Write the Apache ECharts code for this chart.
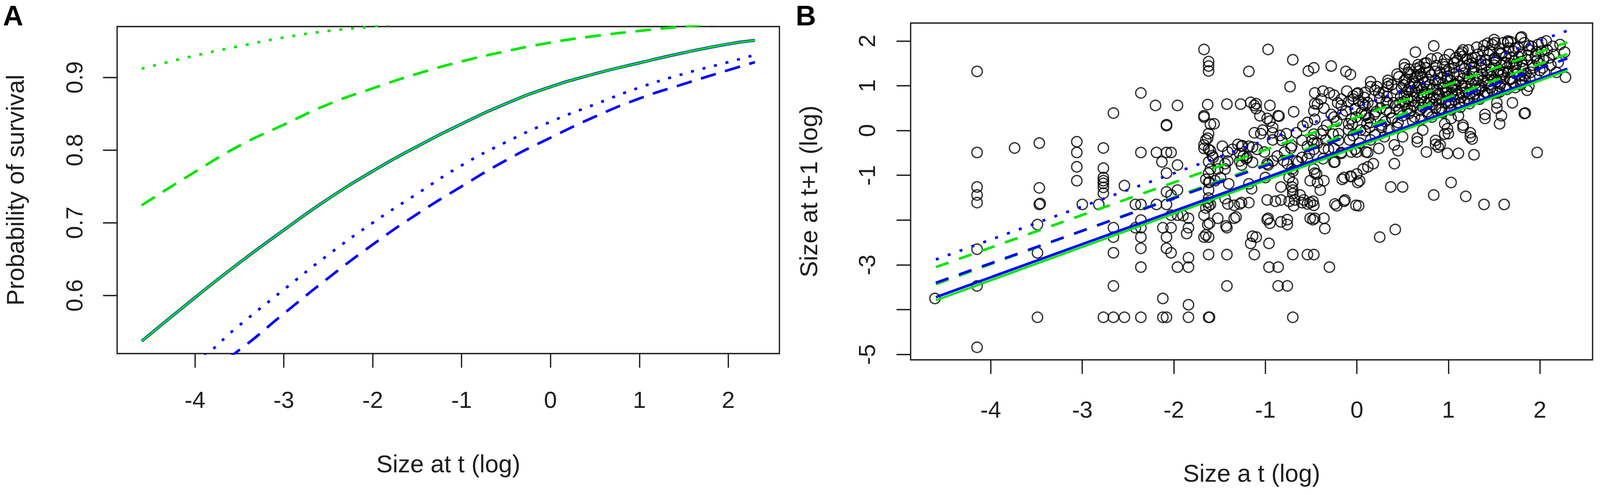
<!DOCTYPE html>
<html>
<head>
<meta charset="utf-8">
<title>Survival and growth</title>
<script src="https://cdn.jsdelivr.net/npm/echarts@6.0.0/dist/echarts.min.js"></script>
<style>
  html, body { margin: 0; padding: 0; background: #fff; overflow: hidden; }
  #main { width: 100vw; height: 100vh; }
</style>
</head>
<body>
<div id="main"></div>
<script>
// ---- panel A : probability of survival vs size ----
var sizeA = [-4.6, -4.0, -3.5, -3.0, -2.5, -2.0, -1.5, -1.0, -0.5, 0, 0.5, 1.0, 1.5, 2.0, 2.3];
var survBlueSolid   = [0.537, 0.597, 0.645, 0.690, 0.733, 0.771, 0.805, 0.836, 0.864, 0.887, 0.905, 0.920, 0.934, 0.946, 0.951];
var survGreenSolid  = [0.537, 0.597, 0.645, 0.690, 0.733, 0.771, 0.805, 0.836, 0.864, 0.887, 0.905, 0.920, 0.934, 0.946, 0.951];
var survGreenDashed = [0.724, 0.770, 0.806, 0.835, 0.863, 0.885, 0.905, 0.922, 0.936, 0.948, 0.957, 0.964, 0.970, 0.975, 0.978];
var survGreenDotted = [0.912, 0.930, 0.943, 0.955, 0.964, 0.970, 0.976, 0.980, 0.983, 0.986, 0.988, 0.990, 0.991, 0.992, 0.993];
var survBlueDotted  = [0.470, 0.508, 0.559, 0.608, 0.656, 0.700, 0.740, 0.779, 0.811, 0.839, 0.863, 0.886, 0.905, 0.921, 0.931];
var survBlueDashed  = [0.440, 0.483, 0.525, 0.575, 0.624, 0.670, 0.712, 0.750, 0.786, 0.817, 0.846, 0.871, 0.891, 0.910, 0.921];

var ticksX = [-4, -3, -2, -1, 0, 1, 2];
var ticksA = [0.6, 0.7, 0.8, 0.9];

// ---- panel B : size at t+1 vs size at t ----
var sizeB = [-4.6, 2.3];
var growBlueSolid   = [-3.72, 1.38];
var growGreenSolid  = [-3.79, 1.34];
var growBlueDashed  = [-3.40, 1.61];
var growGreenDashed = [-3.43, 1.71];
var growGreenUpper  = [-3.05, 1.97];
var growBlueDotted  = [-2.88, 2.23];

var ticksB = [-5, -4, -3, -2, -1, 0, 1, 2];
var labelsB = [-5, -3, -1, 0, 1, 2];

// observed individuals (size t, size t+1)
var obsSize = [
  [-4.61,-3.75],
  [-4.15,1.32],[-4.15,-0.49],[-4.15,-1.26],[-4.15,-1.44],[-4.15,-1.61],[-4.15,-2.65],[-4.15,-3.47],[-4.15,-4.84],
  [-3.74,-0.39],
  [-3.47,-0.28],[-3.47,-1.28],[-3.47,-1.65],[-3.46,-1.63],[-3.49,-2.10],[-3.49,-2.73],[-3.49,-4.17],
  [-3.06,-0.25],[-3.06,-0.49],[-3.06,-0.81],[-3.06,-1.12],[-3.00,-1.65],
  [-2.77,-0.39],[-2.77,-0.84],[-2.77,-1.05],[-2.77,-1.12],[-2.77,-1.18],[-2.77,-1.27],[-2.77,-1.40],[-2.82,-1.65],[-2.77,-4.17],
  [-2.66,0.39],[-2.66,-2.17],[-2.66,-2.38],[-2.66,-2.73],[-2.66,-3.47],[-2.66,-4.17],
  [-2.54,-1.23],[-2.54,-4.17],
  [-2.36,0.84],[-2.36,-0.49],[-2.42,-1.65],[-2.36,-1.65],[-2.36,-2.00],[-2.42,-2.17],[-2.36,-2.17],[-2.36,-2.38],[-2.36,-2.63],[-2.36,-3.05],[-2.36,-4.17],
  [-2.20,0.56],[-2.19,-0.49],[-2.19,-1.65],[-2.13,-0.70],
  [-2.08,0.11],[-2.08,0.13],[-2.08,-0.49],[-2.08,-0.95],[-2.08,-1.37],[-2.08,-1.65],[-2.12,-2.17],[-2.08,-2.38],[-2.08,-2.63],[-2.12,-3.75],[-2.12,-4.17],[-2.08,-4.17],
  [-2.03,-0.49],[-2.03,-1.44],[-2.03,-1.89],[-2.03,-2.17],[-2.03,-2.73],
  [-1.96,0.56],[-1.96,-0.77],[-1.96,-1.33],[-1.96,-1.89],[-1.96,-3.05],
  [-1.84,-1.96],[-1.84,-2.17],[-1.84,-2.84],[-1.84,-3.05],[-1.84,-3.89],[-1.84,-4.17],
  [-1.67,1.81],[-1.62,1.54],[-1.62,1.44],[-1.62,1.33],[-1.63,0.58],[-1.67,0.30],[-1.60,0.14],[-1.62,-0.07],[-1.67,-0.32],[-1.62,-0.42],
  [-1.58,-0.56],[-1.62,-0.70],[-1.62,-0.95],[-1.62,-1.16],[-1.62,-1.33],[-1.62,-1.51],[-1.62,-1.68],[-1.67,-1.89],[-1.61,-2.07],
  [-1.67,-2.38],[-1.62,-2.38],[-1.62,-2.77],[-1.62,-4.17],[-1.61,-4.17],
  [-1.63,-0.17],[-1.65,-0.21],[-1.67,-0.40],[-1.60,-0.45],[-1.57,-0.60],[-1.60,-0.86],[-1.61,-1.15],[-1.65,-1.09],[-1.63,-1.60],
  [-1.60,-1.65],[-1.65,-1.73],[-1.63,-2.10],[-1.65,-2.33],[-1.90,-1.90],[-1.86,-2.30],[-1.56,0.15],[-1.67,0.33],
  [-1.52,-0.86],[-1.55,-1.12],[-1.52,-1.96],[-1.51,-0.70],[-1.49,-1.05],[-1.47,-0.35],[-1.44,-0.74],[-1.44,-0.86],[-1.44,-1.52],
  [-1.43,-2.13],[-1.42,0.59],[-1.42,-2.17],[-1.42,-2.77],[-1.42,-3.47],[-1.41,-0.48],[-1.41,-0.68],[-1.41,-1.64],[-1.40,-1.19],
  [-1.36,-0.42],[-1.34,-1.96],[-1.34,-1.67],[-1.32,-1.93],[-1.30,-0.31],[-1.28,-0.51],[-1.28,-0.68],[-1.28,-1.64],[-1.27,0.59],
  [-1.26,-0.35],[-1.26,-0.77],[-1.26,-1.61],[-1.25,-0.34],[-1.24,-0.57],[-1.21,-0.63],[-1.20,-0.60],[-1.18,1.32],[-1.18,-0.35],
  [-1.18,-1.19],[-1.18,-1.61],[-1.16,0.63],[-1.16,-2.52],[-1.15,-1.30],[-1.14,-0.37],[-1.14,-0.71],[-1.14,-2.36],[-1.12,0.56],
  [-1.12,-0.05],[-1.12,-2.77],[-1.10,0.60],[-1.10,0.49],[-1.10,-2.38],[-1.09,-0.42],[-1.06,0.33],[-1.03,0.01],[-1.05,-0.07],
  [-1.01,-0.48],[-1.00,-1.05],[-0.98,0.27],[-0.98,-0.74],[-0.98,-1.55],[-0.98,-1.99],[-0.97,1.81],[-0.97,-0.77],[-0.97,-1.96],
  [-0.96,-2.52],[-0.96,-3.05],[-0.95,0.56],[-0.95,0.21],[-0.95,-2.07],[-0.92,-0.05],[-0.92,-0.21],[-0.92,-0.68],[-0.92,0.07],
  [-0.89,-1.58],[-0.87,-0.57],[-0.86,0.33],[-0.86,-3.05],[-0.86,-3.47],[-0.85,0.32],[-0.84,-0.11],[-0.83,-1.55],[-0.83,-1.26],
  [-0.83,-2.04],[-0.82,-0.22],[-0.80,-0.67],[-0.79,-0.48],[-0.77,-0.07],[-0.76,-0.74],[-0.76,-1.99],[-0.76,-2.10],[-0.76,-3.47],
  [-0.74,-1.05],[-0.74,-1.58],[-0.73,0.98],[-0.72,-0.39],[-0.71,-0.34],[-0.71,-0.86],[-0.71,-1.26],[-0.70,1.58],[-0.70,-0.91],
  [-0.70,-1.16],[-0.70,-1.33],[-0.70,-1.41],[-0.69,-1.68],[-0.70,-2.77],[-0.70,-4.17],[-0.69,0.42],[-0.68,-1.55],[-0.66,-0.05],
  [-0.66,-0.68],[-0.64,-0.70],[-0.62,-1.44],
  [-0.60,-0.22],[-0.60,-0.60],[-0.60,-1.61],[-0.59,0.10],[-0.58,-1.55],[-0.54,0.18],[-0.54,-0.35],[-0.54,-0.63],[-0.54,-1.64],
  [-0.54,-2.77],[-0.53,1.33],[-0.52,-0.51],[-0.51,-1.12],[-0.51,-1.61],[-0.51,-1.96],[-0.49,-0.22],[-0.48,-1.58],[-0.48,-1.99],
  [-0.47,1.40],[-0.47,0.44],[-0.47,-0.08],[-0.47,-0.28],[-0.47,-0.42],[-0.47,-0.86],[-0.47,-1.67],[-0.47,-2.77],[-0.46,0.84],
  [-0.46,0.60],[-0.46,0.25],[-0.46,-0.95],[-0.46,-1.96],[-0.44,-0.97],[-0.43,0.59],[-0.43,-0.28],[-0.43,-1.16],[-0.40,-1.33],
  [-0.39,0.70],[-0.39,-0.08],[-0.37,0.88],[-0.37,0.00],[-0.37,-0.63],[-0.36,0.50],[-0.36,-0.40],[-0.36,-1.12],[-0.36,-1.96],
  [-0.35,-2.19],[-0.34,-0.21],[-0.33,0.12],[-0.31,-0.42],[-0.30,0.84],[-0.30,-3.05],[-0.28,1.44],[-0.26,-0.08],[-0.25,0.79],
  [-0.25,0.30],[-0.25,-0.40],[-0.25,-0.71],[-0.24,-0.70],[-0.24,-1.64],[-0.22,0.21],[-0.22,-1.68],
  [-0.20,-0.22],[-0.20,-0.07],[-0.17,0.70],[-0.17,0.56],[-0.17,-0.49],[-0.17,-0.51],[-0.16,0.36],[-0.16,-1.09],[-0.14,-1.05],
  [-0.14,-1.58],[-0.13,-1.55],[-0.12,1.32],[-0.11,0.88],[-0.09,0.64],[-0.09,0.15],[-0.09,0.01],[-0.08,-0.21],[-0.07,1.25],
  [-0.07,-1.02],[-0.06,-0.48],[-0.06,-1.03],[-0.05,0.14],[-0.04,0.77],[-0.04,0.70],[-0.04,-0.11],[-0.02,0.49],[-0.02,-0.42],
  [-0.01,0.30],[-0.01,-1.67],[0.00,0.82],[0.00,-0.48],[0.00,-0.97],[0.01,0.84],[0.01,-1.16],[0.02,-1.68],[0.03,-0.28],
  [0.03,-1.12],[0.04,0.01],[0.07,0.59],[0.07,-0.86],[0.09,0.56],[0.09,0.00],[0.10,0.36],[0.10,-0.48],[0.11,0.15],[0.12,-0.49],[0.12,-0.81],
  [0.09,0.85],[0.12,0.62],[0.09,0.33],[0.14,0.07],[0.15,1.09],[0.15,0.98],[0.15,0.18],[0.15,-0.21],[0.18,-0.74],[0.19,0.36],
  [0.20,0.90],[0.20,-0.10],[0.21,0.42],[0.24,0.84],[0.24,-0.40],[0.25,0.73],[0.25,-2.38],[0.27,0.12],[0.27,0.07],[0.30,-0.14],
  [0.32,0.63],[0.32,0.46],[0.34,1.12],[0.34,1.05],[0.34,0.98],[0.34,0.62],[0.35,0.02],[0.37,-1.26],[0.38,0.28],[0.39,0.27],
  [0.41,-0.74],[0.41,-0.32],[0.42,-2.21],[0.44,1.26],[0.44,0.07],[0.45,-0.45],[0.46,0.47],[0.50,-0.14],[0.50,-1.26],[0.51,0.64],
  [0.52,1.40],[0.52,1.48],[0.52,0.77],[0.54,0.85],[0.54,1.14],[0.55,0.49],[0.57,1.37],[0.58,0.98],[0.61,0.21],
  [0.62,0.73],[0.64,1.75],[0.64,1.19],[0.66,1.22],[0.66,0.96],[0.66,-0.17],[0.66,-0.25],[0.67,1.47],[0.69,1.42],[0.71,0.73],
  [0.72,0.01],[0.74,1.08],[0.76,1.51],[0.76,-0.48],[0.79,1.31],[0.79,0.62],[0.84,1.89],[0.84,-1.44],[0.86,-0.22],[0.86,-0.31],
  [0.89,0.82],[0.89,-0.37],[0.91,-0.32],[0.92,0.50],[0.96,1.42],[0.96,-0.08],[0.96,0.15],[0.97,0.85],[0.99,1.14],[0.99,0.04],
  [0.99,-0.51],[1.00,-0.07],[1.03,0.62],[1.03,0.27],[1.03,-1.16],[1.04,0.96],[1.06,1.51],[1.06,1.02],[1.11,0.33],[1.11,-0.51],
  [1.13,1.71],[1.13,0.73],[1.15,1.75],[1.16,1.80],[1.16,1.16],[1.16,0.12],[1.16,0.07],[1.19,-1.47],[1.23,1.48],[1.23,0.82],
  [1.24,-0.05],[1.24,-0.14],[1.26,1.31],[1.26,-0.19],[1.28,-0.54],[1.29,1.63],[1.33,0.90],[1.36,1.48],[1.38,1.77],[1.39,-1.65],
  [1.40,0.36],[1.40,0.27],[1.43,1.95],[1.43,0.82],[1.46,1.25],[1.50,2.03],[1.50,1.60],[1.51,1.96],[1.53,0.50],[1.53,0.62],
  [1.56,1.83],[1.56,0.99],[1.56,0.15],[1.58,0.33],[1.60,1.31],[1.61,-1.65],[1.63,1.51],[1.65,1.97],[1.65,2.00],[1.68,1.14],
  [1.70,0.62],[1.71,1.77],[1.73,1.40],[1.79,2.07],[1.80,2.09],[1.80,1.54],[1.80,1.11],[1.83,1.22],[1.83,0.38],[1.84,0.39],
  [1.86,0.90],[1.88,1.89],[1.88,0.99],[1.97,1.57],[1.97,-0.49],[2.02,1.77],[2.03,1.40],[2.07,2.00],[2.27,1.75],[2.28,1.19],
  // dense band above the fitted line
  [0.47,0.62],[0.49,0.95],[0.52,1.12],[0.55,0.70],[0.57,0.38],[0.58,1.25],[0.60,0.88],[0.62,0.55],[0.63,1.05],[0.66,0.78],
  [0.68,1.33],[0.69,0.45],[0.71,0.92],[0.72,1.18],[0.74,0.64],[0.75,1.40],[0.77,0.83],[0.78,0.36],[0.80,1.02],[0.81,1.24],
  [0.83,0.58],[0.84,0.74],[0.86,1.12],[0.87,1.45],[0.88,0.92],[0.90,0.48],[0.91,1.30],[0.93,0.70],[0.94,1.05],[0.96,1.58],
  [0.97,0.87],[0.99,1.21],[1.00,0.60],[1.01,1.38],[1.03,0.98],[1.05,0.76],[1.06,1.26],[1.08,1.62],[1.09,0.90],[1.11,1.10],
  [1.12,0.62],[1.14,1.44],[1.15,0.84],[1.17,1.28],[1.18,1.00],[1.20,1.60],[1.21,0.72],[1.23,1.15],[1.24,0.93],[1.26,1.50],
  [1.27,1.32],[1.29,0.82],[1.30,1.06],[1.32,1.70],[1.33,1.22],[1.35,0.95],[1.36,1.40],[1.38,1.12],[1.39,0.78],[1.41,1.58],
  [1.42,1.30],[1.44,1.02],[1.45,1.78],[1.47,1.20],[1.48,0.90],[1.50,1.46],[1.51,1.62],[1.53,1.10],[1.55,1.35],[1.56,0.86],
  [1.58,1.72],[1.59,1.24],[1.61,1.52],[1.62,0.98],[1.64,1.40],[1.66,1.84],[1.67,1.16],[1.69,1.63],[1.71,1.30],[1.73,0.96],
  [1.74,1.48],[1.76,1.86],[1.78,1.22],[1.80,1.70],[1.82,1.38],[1.84,1.12],[1.86,1.58],[1.88,1.80],[1.90,1.30],[1.92,1.46],
  [1.95,1.66],[1.98,1.92],[2.00,1.34],[2.04,1.58],[2.08,1.80],[2.12,1.46],[2.15,1.70],[2.18,1.30],[2.22,1.92],
  [0.42,0.55],[0.43,0.92],[0.45,0.18],[0.46,1.20],[0.48,0.76],[0.50,0.33],[0.51,1.02],[0.53,0.58],[0.56,0.90],[0.56,1.30],
  [0.59,0.45],[0.60,0.66],[0.61,1.10],[0.63,0.30],[0.64,0.86],[0.65,1.38],[0.67,0.62],[0.68,1.02],[0.70,0.25],[0.70,1.26],
  [0.72,0.52],[0.73,0.80],[0.74,1.50],[0.76,0.98],[0.77,0.42],[0.78,1.14],[0.80,0.70],[0.81,1.60],[0.82,0.30],[0.83,0.92],
  [0.85,1.32],[0.86,0.50],[0.87,0.68],[0.88,1.62],[0.89,1.05],[0.90,0.80],[0.92,1.18],[0.93,0.40],[0.94,1.48],[0.95,0.95],
  [0.97,0.62],[0.98,1.32],[0.99,0.76],[1.01,1.70],[1.02,1.12],[1.03,0.46],[1.04,0.84],[1.06,1.40],[1.07,0.68],[1.08,1.02],
  [1.10,1.56],[1.11,0.80],[1.12,1.24],[1.13,0.52],[1.15,1.00],[1.16,1.66],[1.17,0.66],[1.18,1.38],[1.19,0.86],[1.21,1.20],
  [1.22,1.80],[1.23,0.60],[1.25,1.04],[1.26,1.62],[1.27,0.76],[1.28,1.42],[1.30,0.92],[1.31,1.86],[1.32,1.14],[1.34,0.70],
  [1.35,1.56],[1.36,1.00],[1.37,1.26],[1.39,1.90],[1.40,0.86],[1.41,1.46],[1.43,1.12],[1.44,1.70],[1.46,0.96],[1.47,1.36],
  [1.48,1.92],[1.50,1.12],[1.52,1.56],[1.53,0.84],[1.54,1.28],[1.56,1.72],[1.57,1.04],[1.58,1.46],[1.60,1.96],[1.61,1.16],
  [1.63,1.66],[1.64,0.92],[1.65,1.30],[1.67,1.50],[1.68,1.98],[1.70,1.08],[1.72,1.56],[1.73,1.84],[1.75,1.26],[1.77,1.64],
  [1.79,1.02],[1.81,1.46],[1.83,1.96],[1.85,1.28],[1.87,1.68],[1.89,1.16],[1.91,1.88],[1.93,1.40],[1.96,1.76],[1.99,1.50],
  [2.02,1.96],[2.05,1.30],[2.10,1.62],[2.14,1.88],[2.20,1.52],
  [-0.28,0.36],[-0.21,0.62],[-0.12,0.44],[-0.06,0.26],[0.02,0.66],[0.05,0.40],[0.08,0.74],[0.13,0.28],[0.17,0.55],
  [0.22,0.98],[0.26,0.50],[0.29,0.86],[0.31,0.20],[0.33,0.76],[0.36,0.40],[0.38,1.02],[0.40,0.62]
];

var BLUE = '#0000ff';
var GREEN = '#00e600';
var INK = '#1e1e1e';
var FONT = 'Liberation Sans';

// the layout below is measured on a 4317 x 1267 frame; scale it to the real viewport
var dom = document.getElementById('main');
var sx = (dom.clientWidth || 4317) / 4317;
var sy = (dom.clientHeight || 1267) / 1267;
var s = Math.min(sx, sy);

function pairs(xs, ys) {
  return xs.map(function (x, i) { return [x, ys[i]]; });
}

function line(name, panel, xs, ys, color, type, width) {
  return {
    name: name,
    type: 'line',
    xAxisIndex: panel,
    yAxisIndex: panel,
    data: pairs(xs, ys),
    smooth: panel === 0,
    showSymbol: false,
    clip: true,
    z: 5,
    lineStyle: {
      color: color, width: width * s,
      type: Array.isArray(type) ? type.map(function (d) { return d * s; }) : type
    }
  };
}

var tickStyle = { show: true, inside: false, length: 38 * s, lineStyle: { color: INK, width: 3.5 * s } };

function xAxisFor(grid, margin, name, gap) {
  return {
    type: 'value', gridIndex: grid, min: -4.876, max: 2.576,
    axisLine: { show: false, onZero: false }, splitLine: { show: false },
    axisTick: Object.assign({ customValues: ticksX }, tickStyle),
    axisLabel: { customValues: ticksX, margin: margin * sy, color: INK, fontSize: 63 * s, fontFamily: FONT },
    name: name, nameLocation: 'middle', nameGap: gap * sy,
    nameTextStyle: { color: INK, fontSize: 66 * s, fontFamily: FONT }
  };
}

var myChart = echarts.init(dom, null, { renderer: 'svg' });

var option = {
  animation: false,
  backgroundColor: '#fff',
  textStyle: { fontFamily: FONT },
  graphic: [
    { type: 'text', left: 8 * sx, top: 4 * sy, style: { text: 'A', font: 'bold ' + Math.round(76 * s) + 'px "Liberation Sans"', fill: '#000' } },
    { type: 'text', left: 2147 * sx, top: 4 * sy, style: { text: 'B', font: 'bold ' + Math.round(76 * s) + 'px "Liberation Sans"', fill: '#000' } }
  ],
  grid: [
    { left: 316 * sx, top: 68 * sy, width: 1787 * sx, height: 837 * sy, show: true, borderColor: INK, borderWidth: 3.5 * s, containLabel: false },
    { left: 2457 * sx, top: 59 * sy, width: 1840 * sx, height: 862 * sy, show: true, borderColor: INK, borderWidth: 3.5 * s, containLabel: false }
  ],
  xAxis: [
    xAxisFor(0, 88, 'Size at t (log)', 250),
    xAxisFor(1, 97, 'Size a t (log)', 258)
  ],
  yAxis: [
    {
      type: 'value', gridIndex: 0, min: 0.52, max: 0.97,
      axisLine: { show: false, onZero: false }, splitLine: { show: false },
      axisTick: Object.assign({ customValues: ticksA }, tickStyle),
      axisLabel: {
        customValues: ticksA, rotate: 90, margin: 84 * sx, color: INK, fontSize: 63 * s, fontFamily: FONT,
        formatter: function (v) { return v.toFixed(1); }
      },
      name: 'Probability of survival', nameLocation: 'middle', nameGap: 242 * sx,
      nameTextStyle: { color: INK, fontSize: 66 * s, fontFamily: FONT }
    },
    {
      type: 'value', gridIndex: 1, min: -5.12, max: 2.40,
      axisLine: { show: false, onZero: false }, splitLine: { show: false },
      axisTick: Object.assign({ customValues: ticksB }, tickStyle),
      axisLabel: { customValues: labelsB, rotate: 90, margin: 86 * sx, color: INK, fontSize: 63 * s, fontFamily: FONT },
      name: 'Size at t+1 (log)', nameLocation: 'middle', nameGap: 242 * sx,
      nameTextStyle: { color: INK, fontSize: 66 * s, fontFamily: FONT }
    }
  ],
  series: [
    // panel A
    line('blue solid', 0, sizeA, survBlueSolid, BLUE, 'solid', 8),
    line('green solid', 0, sizeA, survGreenSolid, GREEN, 'solid', 5),
    line('green dashed', 0, sizeA, survGreenDashed, GREEN, [42, 26], 7),
    line('green dotted', 0, sizeA, survGreenDotted, GREEN, [8, 24], 7),
    line('blue dotted', 0, sizeA, survBlueDotted, BLUE, [8, 24], 7),
    line('blue dashed', 0, sizeA, survBlueDashed, BLUE, [42, 26], 7),
    // panel B
    {
      name: 'observed', type: 'scatter', xAxisIndex: 1, yAxisIndex: 1,
      data: obsSize, symbol: 'circle', symbolSize: 28 * s, z: 2,
      itemStyle: { color: 'rgba(0,0,0,0)', borderColor: '#000', borderWidth: 3.5 * s }
    },
    line('B blue dotted', 1, sizeB, growBlueDotted, BLUE, [8, 26], 7),
    line('B green upper', 1, sizeB, growGreenUpper, GREEN, [36, 30], 7),
    line('B green dashed', 1, sizeB, growGreenDashed, GREEN, [36, 30], 7),
    line('B blue dashed', 1, sizeB, growBlueDashed, BLUE, [36, 30], 7),
    line('B blue solid', 1, sizeB, growBlueSolid, BLUE, 'solid', 7),
    line('B green solid', 1, sizeB, growGreenSolid, GREEN, 'solid', 6)
  ]
};

myChart.setOption(option);
</script>
</body>
</html>
